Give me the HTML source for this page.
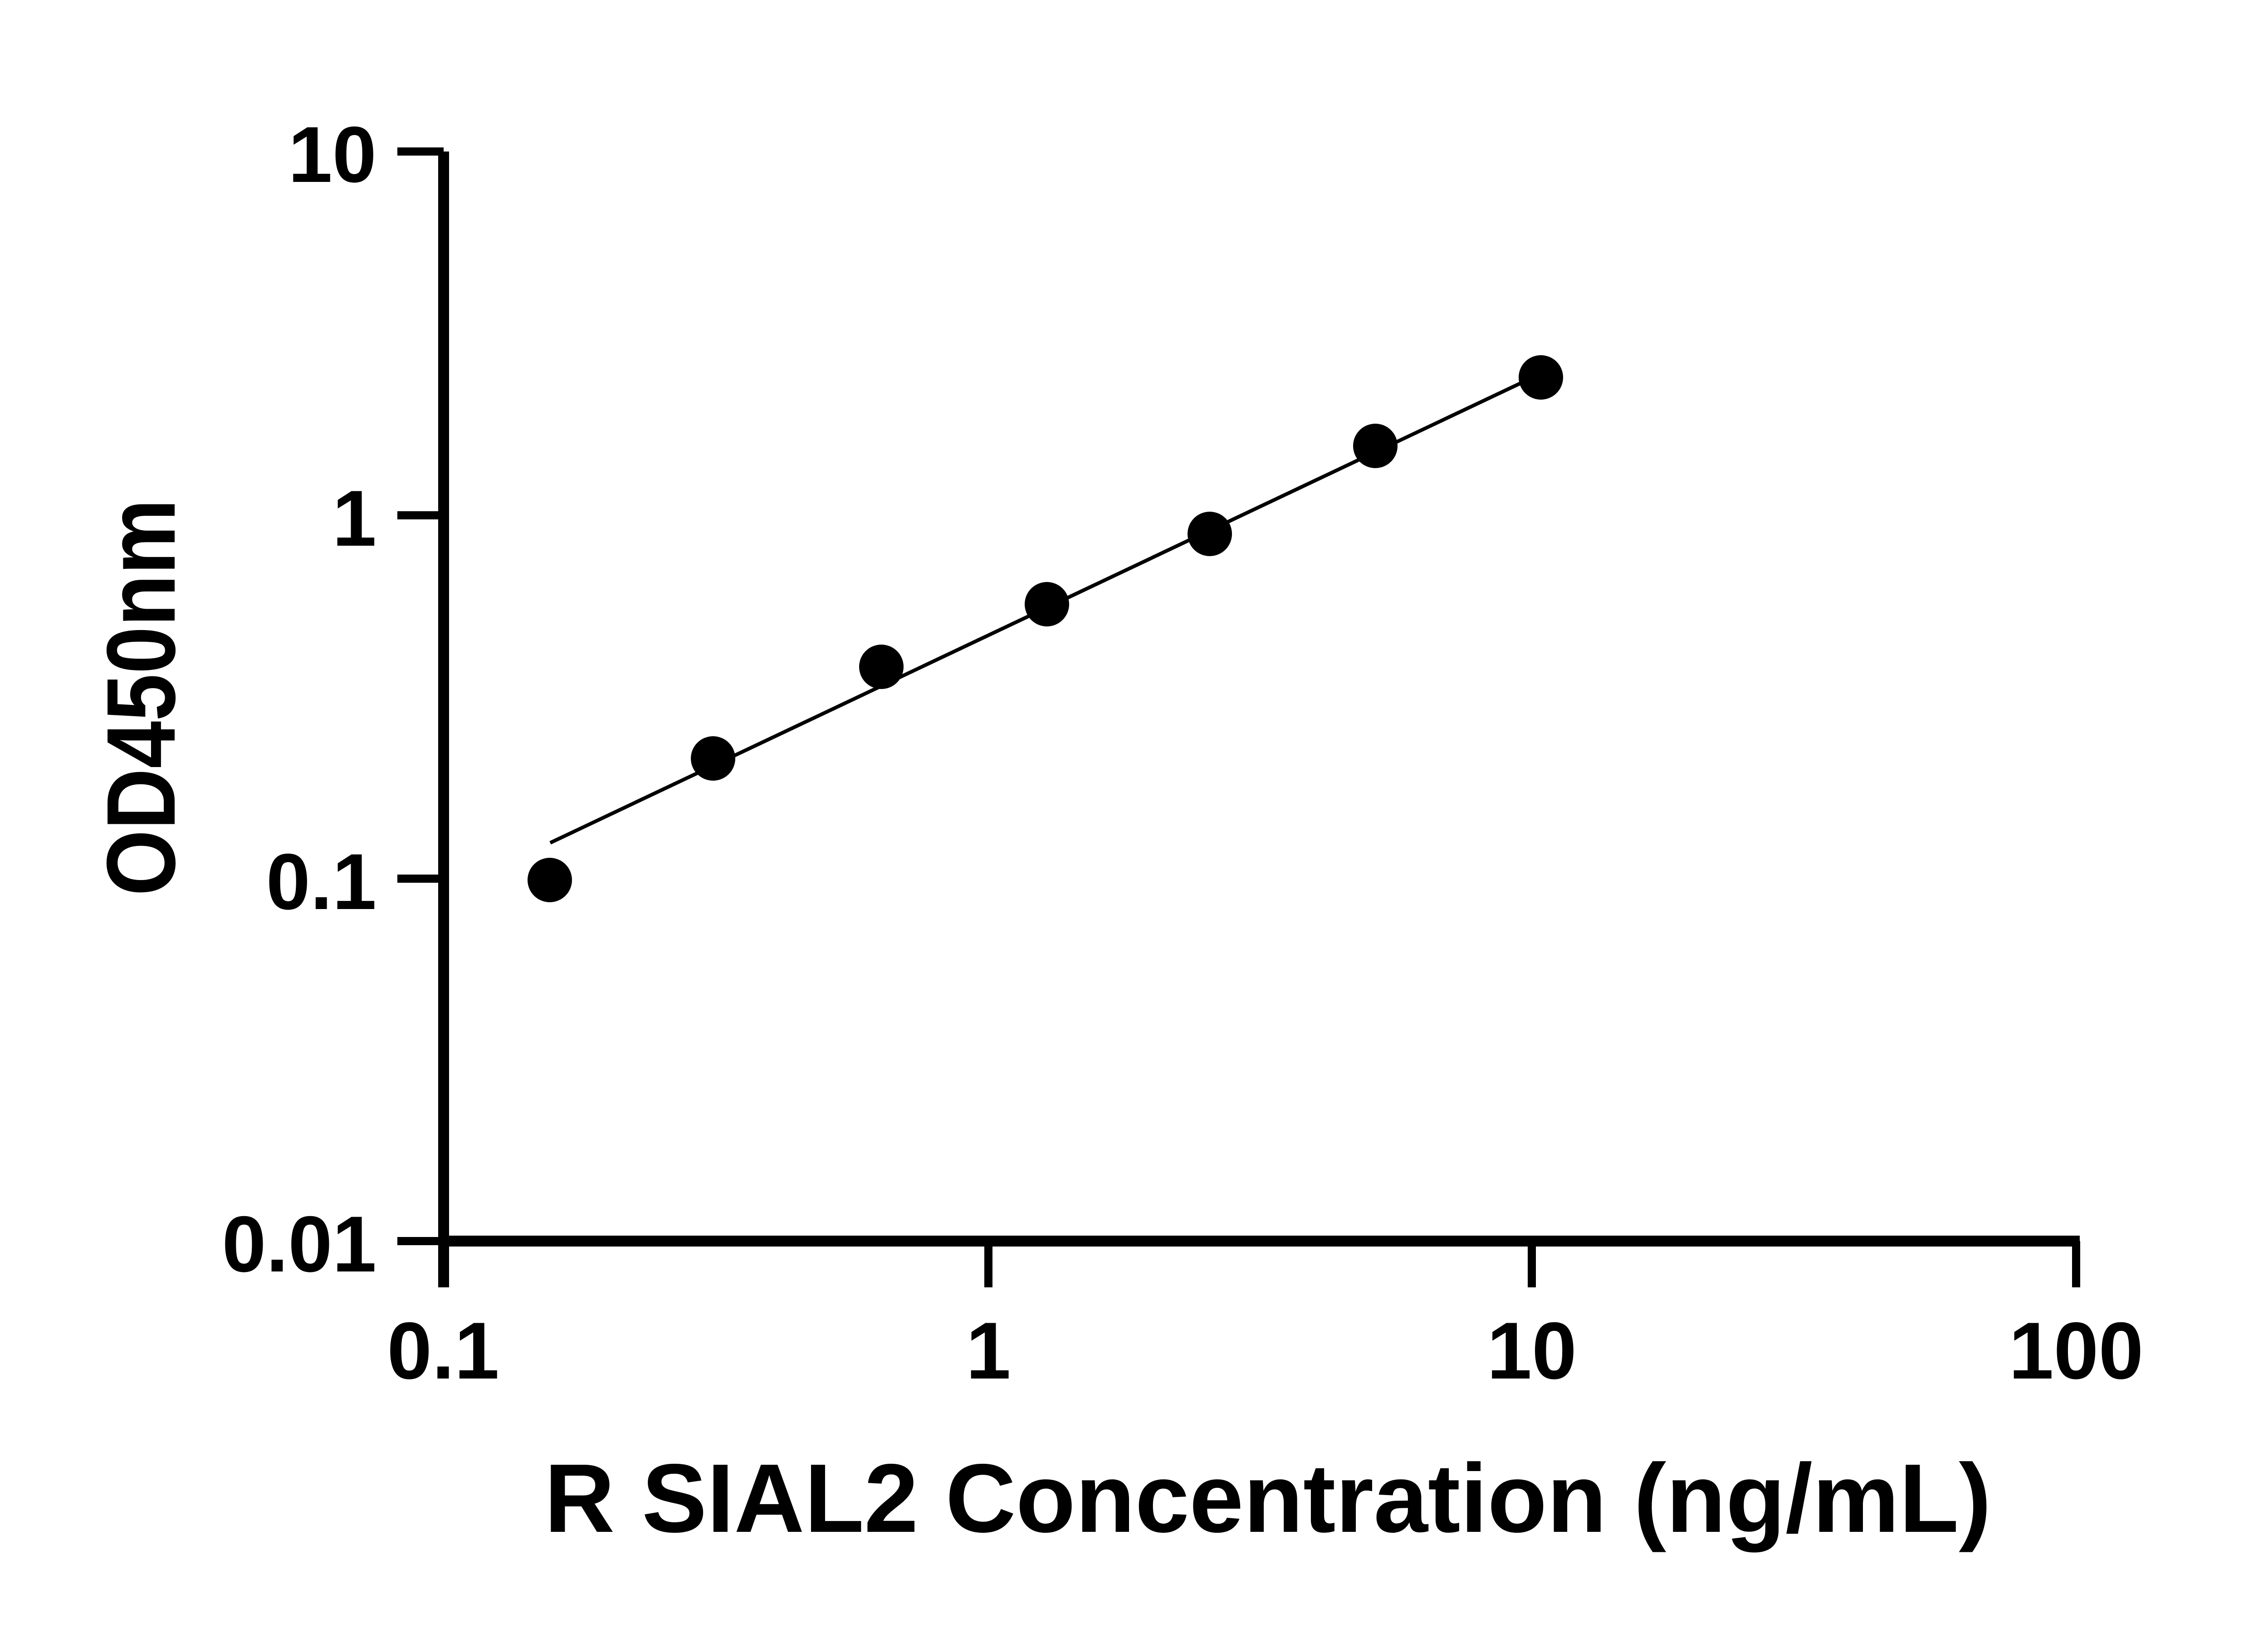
<!DOCTYPE html>
<html><head><style>html,body{margin:0;padding:0;background:#fff}svg{display:block}</style></head>
<body>
<svg width="5130" height="3600" viewBox="0 0 5130 3600" xmlns="http://www.w3.org/2000/svg">
<rect width="5130" height="3600" fill="#fff"/>
<g stroke="#000" fill="none">
<line x1="978" y1="334" x2="978" y2="2838" stroke-width="24"/>
<line x1="966" y1="2736" x2="4585" y2="2736" stroke-width="24"/>
<g stroke-width="18">
<line x1="876" y1="334" x2="978" y2="334"/>
<line x1="876" y1="1136" x2="978" y2="1136"/>
<line x1="876" y1="1937" x2="978" y2="1937"/>
<line x1="876" y1="2736" x2="978" y2="2736"/>
<line x1="2179" y1="2736" x2="2179" y2="2838"/>
<line x1="3377" y1="2736" x2="3377" y2="2838"/>
<line x1="4577" y1="2736" x2="4577" y2="2838"/>
</g>
<line x1="1213" y1="1858" x2="3356" y2="843" stroke-width="8"/>
</g>
<g fill="#000">
<circle cx="1212" cy="1940" r="49"/>
<circle cx="1572" cy="1672" r="49"/>
<circle cx="1943" cy="1470" r="49"/>
<circle cx="2308" cy="1332" r="49"/>
<circle cx="2667" cy="1177" r="49"/>
<circle cx="3032" cy="983" r="49"/>
<circle cx="3397" cy="832" r="49"/>
</g>
<g font-family="Liberation Sans, sans-serif" font-weight="bold" fill="#000">
<g font-size="175" text-anchor="end">
<text x="830" y="401">10</text>
<text x="830" y="1203">1</text>
<text x="830" y="2004">0.1</text>
<text x="830" y="2803">0.01</text>
</g>
<g font-size="178" text-anchor="middle">
<text x="977" y="3039">0.1</text>
<text x="2179" y="3039">1</text>
<text x="3377" y="3039">10</text>
<text x="4577" y="3039">100</text>
</g>
<text x="1200" y="3377" font-size="215" textLength="3190" lengthAdjust="spacingAndGlyphs">R SIAL2 Concentration (ng/mL)</text>
<text transform="translate(385,1975) rotate(-90)" font-size="215" textLength="875" lengthAdjust="spacingAndGlyphs">OD450nm</text>
</g>
</svg>
</body></html>
